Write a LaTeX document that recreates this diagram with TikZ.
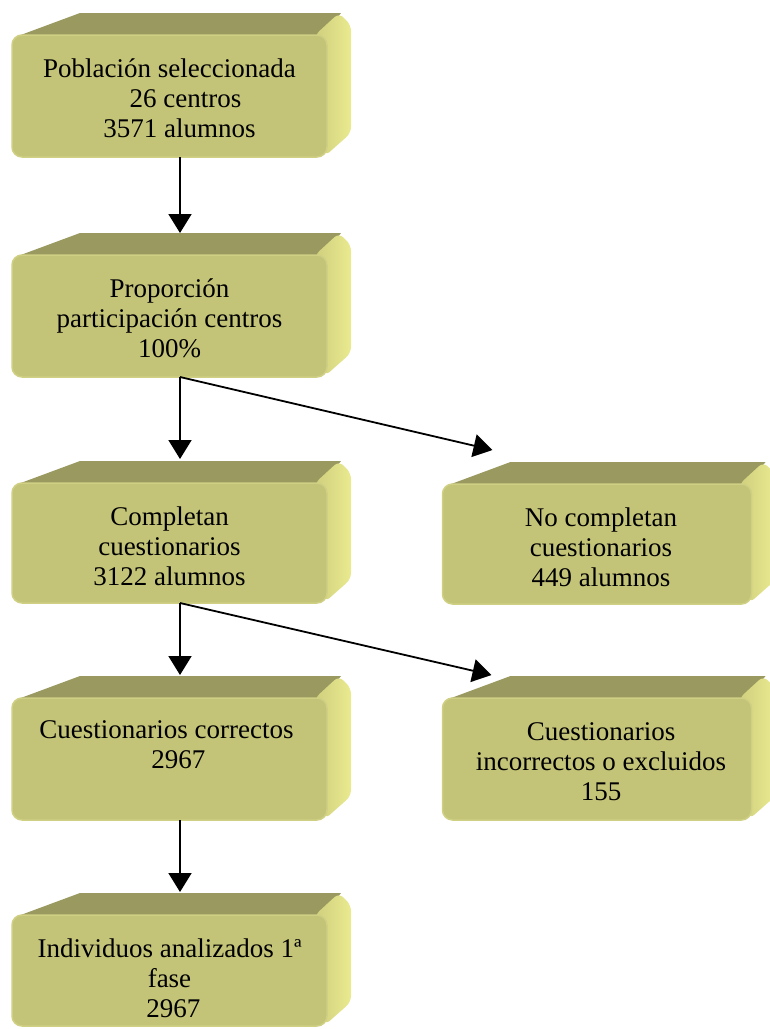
\documentclass[tikz,border=0pt]{standalone}
\usepackage{fontspec}
\setmainfont{Liberation Serif}
\usetikzlibrary{arrows.meta,calc,backgrounds}
\definecolor{frontc}{HTML}{C4C478}
\definecolor{frontedge}{HTML}{D0D084}
\definecolor{topc}{HTML}{999960}
\definecolor{sidein}{HTML}{CFCF7E}
\definecolor{sideout}{HTML}{EAEA90}
\tikzset{
  front/.style={rectangle, rounded corners=10pt, fill=frontc, draw=frontedge,
    line width=1.5pt, inner sep=0pt, outer sep=0pt,
    minimum width=#1},
  front/.default=315pt,
  txt/.style={align=center, inner sep=0pt, font=\fontsize{27}{30}\selectfont, anchor=north},
  topface/.style={fill=topc},
  sideface/.style={left color=sidein, right color=sideout, rounded corners=6pt},
  arr/.style={draw=black, line width=1.8pt, -{Triangle[length=19pt,width=23pt]}}
}
\newcommand\solidbox[1]{%
  \begin{pgfonlayer}{background}
    \path let \p1=(#1.north west), \p2=(#1.south east) in
      [topface] (\x1+6pt,\y1-1pt) -- (\x1+68pt,\y1+22pt) -- (\x2+14pt,\y1+22pt) -- (\x2-4pt,\y1-1pt) -- cycle;
    \path let \p1=(#1.north west), \p2=(#1.south east) in
      [sideface] (\x2-12pt,\y1) -- (\x2+12pt,\y1+22pt) -- (\x2+24pt,\y1+10pt) -- (\x2+24pt,\y2+24pt) -- (\x2-2pt,\y2+1pt) -- cycle;
  \end{pgfonlayer}}
\begin{document}
\begin{tikzpicture}[x=1pt,y=-1pt]
\useasboundingbox (0,0) rectangle (770,1029);
% front faces
\node[front, minimum height=122pt] (n1) at (169.5,96) {};
\node[front, minimum height=122pt] (n2) at (169.5,316) {};
\node[front, minimum height=120pt] (n3) at (169.5,543) {};
\node[front=309pt, minimum height=120pt] (n4) at (597,544) {};
\node[front, minimum height=122pt] (n5) at (169.5,759) {};
\node[front=309pt, minimum height=122pt] (n6) at (597,759) {};
\node[front, minimum height=111pt] (n7) at (169.5,970.5) {};
\solidbox{n1}\solidbox{n2}\solidbox{n3}\solidbox{n4}\solidbox{n5}\solidbox{n6}\solidbox{n7}
% texts
\node[txt] (t1) at ($(n1.north)+(0,21)$) {\strut Población seleccionada\\ \hspace*{32pt}26 centros\\ \hspace*{20pt}3571 alumnos};
\node[txt] (t2) at ($(n2.north)+(0,21)$) {\strut Proporción\\ participación centros\\ 100\%};
\node[txt] (t3) at ($(n3.north)+(0,21)$) {\strut Completan\\ cuestionarios\\ 3122 alumnos};
\node[txt] (t4) at ($(n4.north)+(4,21)$) {\strut No completan\\ cuestionarios\\ 449 alumnos};
\node[txt] (t5) at ($(n5.north)+(-3,19)$) {\strut Cuestionarios correctos\\ \hspace*{24pt}2967};
\node[txt] (t6) at ($(n6.north)+(4,21)$) {\strut Cuestionarios\\ incorrectos o excluidos\\ 155};
\node[txt] (t7) at ($(n7.north)+(0,21)$) {\strut Individuos analizados 1ª\\ fase\\ \hspace*{8pt}2967};
% connectors
\draw[arr] ($(n1.south)+(10.5,0)$) -- ($(n2.north)+(10.5,-22)$);
\draw[arr] ($(n2.south)+(10.5,0)$) -- ($(n3.north)+(10.5,-24)$);
\draw[arr] ($(n2.south)+(10.5,0)$) -- ($(n4.north west)+(50,-34)$);
\draw[arr] ($(n3.south)+(10.5,0)$) -- ($(n5.north)+(10.5,-23)$);
\draw[arr] ($(n3.south)+(10.5,0)$) -- ($(n6.north west)+(49,-23)$);
\draw[arr] ($(n5.south)+(10.5,0)$) -- ($(n7.north)+(10.5,-23)$);
\end{tikzpicture}
\end{document}
